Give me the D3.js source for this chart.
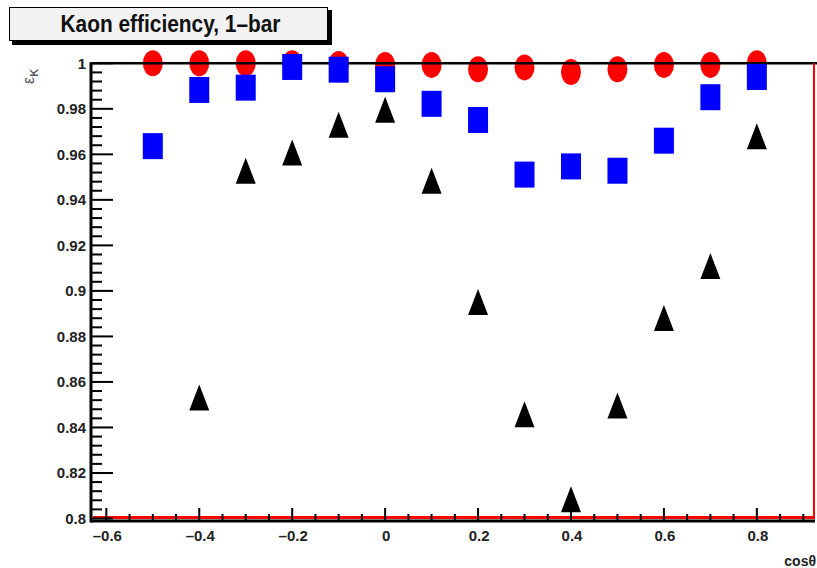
<!DOCTYPE html>
<html>
<head>
<meta charset="utf-8">
<script src="https://cdn.jsdelivr.net/npm/d3@7"></script>
<style>
  body { margin: 0; background: #fff; }
  svg { display: block; font-family: "Liberation Sans", Arial, sans-serif; }
</style>
</head>
<body>
<svg id="chart"></svg>
<script>
const width = 817;
const height = 568;

// cos(theta) bins
const cosTheta = [-0.5, -0.4, -0.3, -0.2, -0.1, 0, 0.1, 0.2, 0.3, 0.4, 0.5, 0.6, 0.7, 0.8];
// efficiency series
const redCircles = [1.0, 1.0, 1.0, 1.0, 0.9997, 0.9993, 0.9993, 0.9974, 0.9982, 0.9962, 0.9974, 0.9993, 0.9993, 1.0];
const blueSquares = [0.9636, 0.9883, 0.9893, 0.9984, 0.9972, 0.993, 0.9822, 0.9751, 0.9511, 0.9547, 0.9528, 0.966, 0.9851, 0.994];
const blackTriangles = [null, 0.8532, 0.9528, 0.9608, 0.973, 0.9796, 0.9484, 0.8951, 0.8458, 0.8085, 0.8497, 0.8881, 0.9109, 0.9679];

const xTickLabels = [-0.6, -0.4, -0.2, 0, 0.2, 0.4, 0.6, 0.8];
const yTickLabels = [0.8, 0.82, 0.84, 0.86, 0.88, 0.9, 0.92, 0.94, 0.96, 0.98, 1];

const svg = d3.select("#chart").attr("width", width).attr("height", height);

const x = d3.scaleLinear().domain([-0.633, 0.923]).range([91, 814]);
const y = d3.scaleLinear().domain([0.8, 1]).range([518.5, 63.3]);

const pts = (vals) => cosTheta.map((c, i) => ({ c, v: vals[i] })).filter((d) => d.v !== null);

// red circles go under the frame line
svg.append("g")
  .selectAll("ellipse")
  .data(pts(redCircles))
  .enter()
  .append("ellipse")
  .attr("cx", (d) => x(d.c))
  .attr("cy", (d) => y(d.v))
  .attr("rx", 10)
  .attr("ry", 13)
  .attr("fill", "#ff0000");

// frame
svg.append("line")
  .attr("x1", 91).attr("x2", 817)
  .attr("y1", y(1)).attr("y2", y(1))
  .attr("stroke", "#000").attr("stroke-width", 2.5);

svg.append("line")
  .attr("x1", 814).attr("x2", 814)
  .attr("y1", y(1)).attr("y2", 519)
  .attr("stroke", "#ff0000").attr("stroke-width", 2);

svg.append("line")
  .attr("x1", 91).attr("x2", 815)
  .attr("y1", 521).attr("y2", 521)
  .attr("stroke", "#000").attr("stroke-width", 3);

svg.append("line")
  .attr("x1", 93).attr("x2", 815)
  .attr("y1", 517.5).attr("y2", 517.5)
  .attr("stroke", "#ff0000").attr("stroke-width", 3);

svg.append("line")
  .attr("x1", 91).attr("x2", 91)
  .attr("y1", y(1) - 1).attr("y2", 522.5)
  .attr("stroke", "#000").attr("stroke-width", 3);

// y ticks (inside the frame)
const yMinor = d3.range(0, 51).map((i) => 0.8 + i * 0.004);
svg.append("g")
  .selectAll("line")
  .data(yMinor)
  .enter()
  .append("line")
  .attr("x1", 91)
  .attr("x2", (d, i) => (i % 5 === 0 ? 113 : 102))
  .attr("y1", (d) => y(d))
  .attr("y2", (d) => y(d))
  .attr("stroke", "#000")
  .attr("stroke-width", 2);

svg.append("g")
  .selectAll("text")
  .data(yTickLabels)
  .enter()
  .append("text")
  .attr("x", 86)
  .attr("y", (d) => y(d))
  .attr("dy", "0.36em")
  .attr("text-anchor", "end")
  .attr("font-size", 15)
  .attr("font-weight", "bold")
  .attr("fill", "#222")
  .text((d) => d3.format("")(+d.toFixed(2)));

// x ticks (upwards from the bottom axis)
const xMinor = d3.range(0, 31).map((i) => -0.6 + i * 0.05);
svg.append("g")
  .selectAll("line")
  .data(xMinor)
  .enter()
  .append("line")
  .attr("x1", (d) => x(d))
  .attr("x2", (d) => x(d))
  .attr("y1", 520)
  .attr("y2", (d, i) => (i % 4 === 0 ? 508 : 514))
  .attr("stroke", "#000")
  .attr("stroke-width", 2);

svg.append("g")
  .selectAll("text")
  .data(xTickLabels)
  .enter()
  .append("text")
  .attr("x", (d) => x(d) + 1)
  .attr("y", 541)
  .attr("text-anchor", "middle")
  .attr("font-size", 15)
  .attr("font-weight", "bold")
  .attr("fill", "#222")
  .text((d) => (d < 0 ? "\u2013" + Math.abs(d) : String(d)));

// blue squares
svg.append("g")
  .selectAll("rect")
  .data(pts(blueSquares))
  .enter()
  .append("rect")
  .attr("x", (d) => x(d.c) - 10)
  .attr("y", (d) => y(d.v) - 13)
  .attr("width", 20)
  .attr("height", 26)
  .attr("fill", "#0000ff");

// black triangles
svg.append("g")
  .selectAll("path")
  .data(pts(blackTriangles))
  .enter()
  .append("path")
  .attr("transform", (d) => `translate(${x(d.c)},${y(d.v)})`)
  .attr("d", "M0,-13L10,13L-10,13Z")
  .attr("fill", "#000");

// title box
svg.append("rect")
  .attr("x", 12).attr("y", 10).attr("width", 320).attr("height", 35)
  .attr("fill", "#000");
svg.append("rect")
  .attr("x", 9.5).attr("y", 7.5).attr("width", 318).attr("height", 33)
  .attr("fill", "#f2f2f2").attr("stroke", "#000").attr("stroke-width", 1);
svg.append("text")
  .attr("x", 170.5)
  .attr("y", 32)
  .attr("text-anchor", "middle")
  .attr("font-size", 23)
  .attr("font-weight", "bold")
  .attr("textLength", 220)
  .attr("lengthAdjust", "spacingAndGlyphs")
  .attr("fill", "#111")
  .text("Kaon efficiency, 1\u2013bar");

// axis titles
const yTitle = svg.append("text")
  .attr("transform", "translate(34,84) rotate(-90)")
  .attr("font-size", 16)
  .attr("fill", "#555");
yTitle.append("tspan").text("\u03b5");
yTitle.append("tspan").attr("dy", 4).attr("font-size", 11).attr("font-weight", "bold").text("K");

svg.append("text")
  .attr("x", 816)
  .attr("y", 566)
  .attr("text-anchor", "end")
  .attr("font-size", 14)
  .attr("font-weight", "bold")
  .attr("fill", "#222")
  .text("cos\u03b8");
</script>
</body>
</html>
